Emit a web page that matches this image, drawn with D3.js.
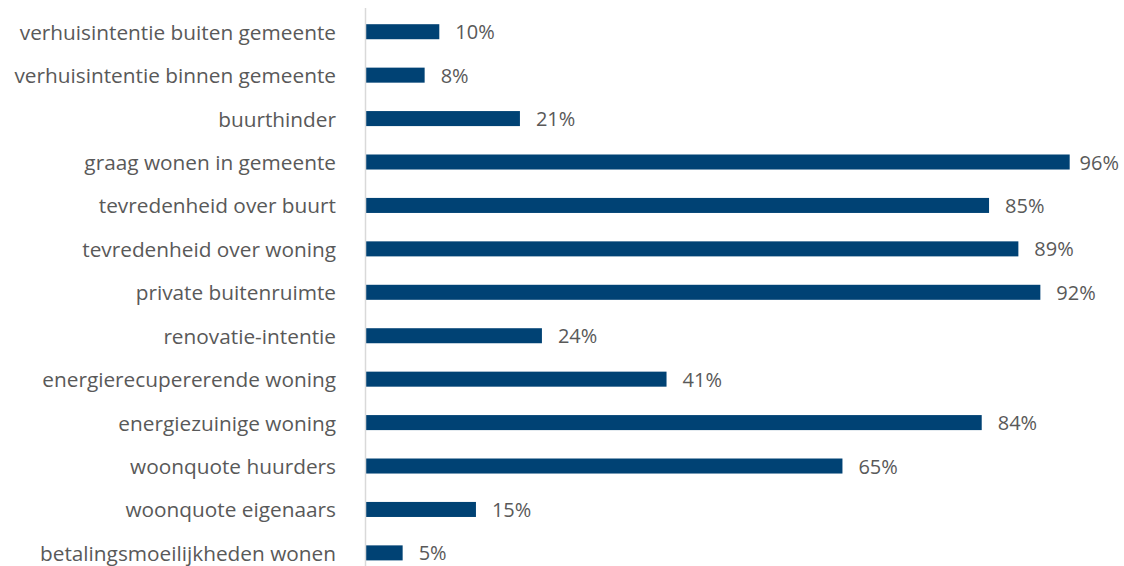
<!DOCTYPE html>
<html><head><meta charset="utf-8">
<script src="https://cdn.jsdelivr.net/npm/d3@7"></script>
<style>body{margin:0;background:#fff}svg{display:block}</style>
</head><body>
<svg id="c" width="1124" height="566"></svg>
<script>
const categories = ["verhuisintentie buiten gemeente","verhuisintentie binnen gemeente","buurthinder","graag wonen in gemeente","tevredenheid over buurt","tevredenheid over woning","private buitenruimte","renovatie-intentie","energierecupererende woning","energiezuinige woning","woonquote huurders","woonquote eigenaars","betalingsmoeilijkheden wonen"];
const values = [10,8,21,96,85,89,92,24,41,84,65,15,5];
const labels = ["10%","8%","21%","96%","85%","89%","92%","24%","41%","84%","65%","15%","5%"];

const W = 1124;
const svg = d3.select("#c");
const x = d3.scaleLinear().domain([0,100]).range([366,1099]);
const y = d3.scaleBand().domain(categories).range([10,574.6]).paddingInner(0.654).paddingOuter(0.327);
const font = "'Open Sans', sans-serif";

svg.selectAll("rect.bar").data(values).join("rect")
  .attr("class","bar")
  .attr("x", x(0))
  .attr("y",(d,i)=>y(categories[i]))
  .attr("width",d=>x(d)-x(0))
  .attr("height",y.bandwidth())
  .attr("fill","#004274");

svg.append("line").attr("x1",365.5).attr("x2",365.5).attr("y1",8).attr("y2",566)
  .attr("stroke","#d9d9d9").attr("stroke-width",1.5);

svg.selectAll("text.cat").data(categories).join("text")
  .attr("class","cat")
  .attr("x",336).attr("y",d=>y(d)+y.bandwidth()/2)
  .attr("text-anchor","end").attr("dominant-baseline","central")
  .attr("font-family",font).attr("font-size",20.8).attr("fill","#595959")
  .text(d=>d);

svg.selectAll("text.val").data(values).join("text")
  .attr("class","val")
  .attr("x",d=>x(d)+16).attr("y",(d,i)=>y(categories[i])+y.bandwidth()/2)
  .attr("dominant-baseline","central")
  .attr("font-family",font).attr("font-size",20).attr("fill","#595959")
  .text((d,i)=>labels[i])
  .each(function(d){
    const w = this.getComputedTextLength();
    const xx = Math.min(x(d)+16, W - 5 - w);
    d3.select(this).attr("x", xx);
  });
</script>
</body></html>
